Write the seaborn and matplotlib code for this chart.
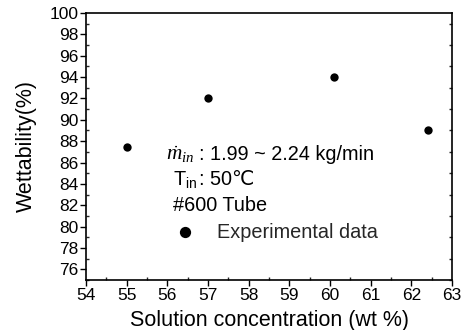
import matplotlib
matplotlib.use("Agg")
import matplotlib.pyplot as plt
import seaborn as sns
import pandas as pd
from matplotlib.ticker import MultipleLocator

concentration = [55.0, 57.0, 60.1, 62.4]
wettability = [87.5, 92.0, 94.0, 89.0]

sns.set_theme(style="ticks")
plt.rcParams['font.family'] = ['Liberation Sans', 'DejaVu Sans']
plt.rcParams['mathtext.fontset'] = 'custom'
plt.rcParams['mathtext.it'] = 'Liberation Serif:italic'
plt.rcParams['mathtext.rm'] = 'Liberation Sans'

df = pd.DataFrame({"conc": concentration, "wet": wettability})

fig = plt.figure(figsize=(4.61, 3.30), dpi=100)
ax = fig.add_axes([86/461, 50/330, 366/461, 267/330])

sns.scatterplot(data=df, x="conc", y="wet", ax=ax, color="black", s=36,
                edgecolor="black", linewidth=0, label="Experimental data")

ax.set_xlim(54, 63)
ax.set_ylim(75, 100)
ax.xaxis.set_major_locator(MultipleLocator(1))
ax.xaxis.set_minor_locator(MultipleLocator(0.5))
ax.yaxis.set_major_locator(MultipleLocator(2))
ax.yaxis.set_minor_locator(MultipleLocator(1))

ax.tick_params(axis="both", which="major", direction="out", length=4, width=1,
               labelsize=12.5, colors="black", pad=1.5)
ax.tick_params(axis="both", which="minor", direction="in", length=2.5, width=1)
ax.tick_params(axis="y", which="minor", right=True)

for sp in ax.spines.values():
    sp.set_color("black")
    sp.set_linewidth(1.2)

ax.set_xlabel("Solution concentration (wt %)", fontsize=15.5, labelpad=5, color="black")
ax.set_ylabel("Wettability(%)", fontsize=15.5, labelpad=9, color="black")

def fx(px):
    return (px - 86) / 366
def fy(py):
    return (280 - py) / 267

fs = 14.3
ax.text(fx(166), fy(160), r"$\dot{m}_{in}$", transform=ax.transAxes,
        fontsize=fs + 1, color="black", va="baseline", ha="left")
ax.text(fx(199), fy(160), ": 1.99 ~ 2.24 kg/min", transform=ax.transAxes,
        fontsize=fs, color="black", va="baseline", ha="left")
ax.text(fx(173), fy(185), r"T$_{\mathrm{in}}$", transform=ax.transAxes,
        fontsize=fs, color="black", va="baseline", ha="left")
ax.text(fx(199), fy(185), ": 50℃", transform=ax.transAxes,
        fontsize=fs, color="black", va="baseline", ha="left")
ax.text(fx(173), fy(211), "#600 Tube", transform=ax.transAxes,
        fontsize=fs, color="black", va="baseline", ha="left")

leg = ax.legend(loc="center left", bbox_to_anchor=(fx(177), fy(232)), frameon=False,
                fontsize=fs, handletextpad=1.2, borderpad=0, borderaxespad=0,
                handlelength=0.8, markerscale=1.35)

fig.savefig("out.png", dpi=100)
